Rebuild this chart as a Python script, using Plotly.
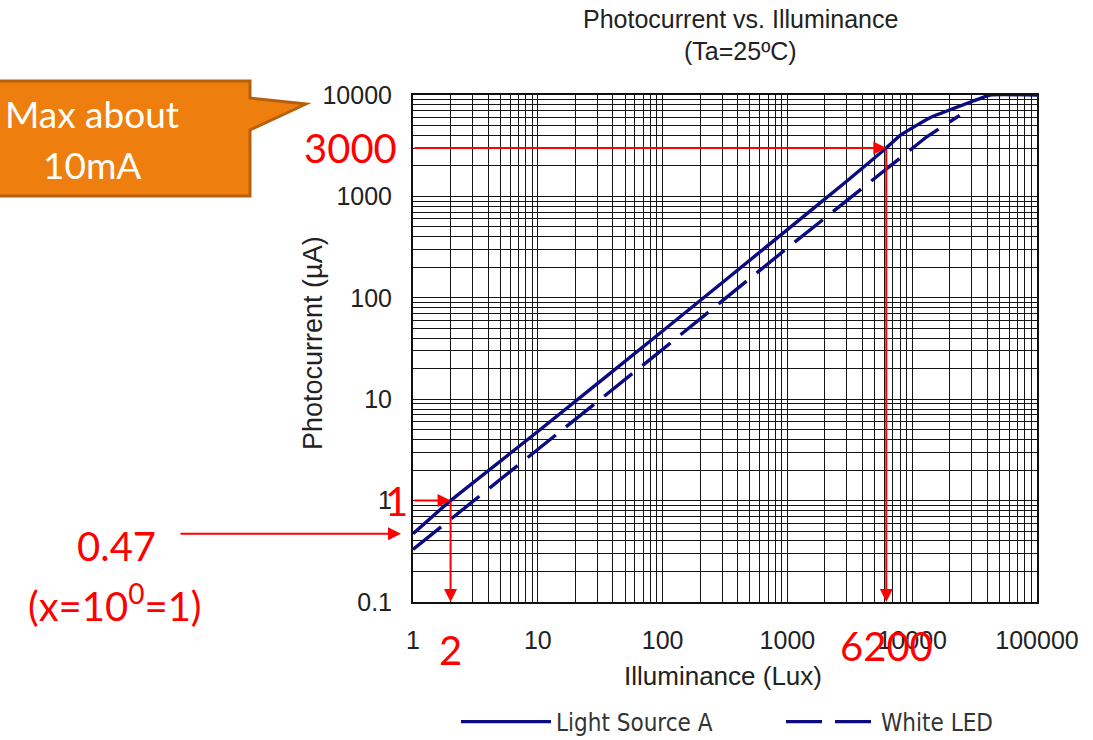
import numpy as np
import plotly.graph_objects as go

# Photocurrent vs. illuminance curves (Ta = 25 C)
lux_a = [1, 2, 10, 100, 1000, 3000, 6200, 8000, 10500, 14000, 21000, 30000, 42000, 100000]
ua_a = [0.47, 1.0, 4.8, 47, 470, 1420, 3000, 4000, 4900, 6000, 7300, 8600, 10000, 10000]

lux_led = [1, 10, 100, 1000, 6200, 13000, 24000]
ua_led = [0.33, 3.2, 31, 310, 1860, 3850, 6300]

# Annotated reading points
low_x, low_y = 2, 1
high_x, high_y = 6200, 3000
start_y = 0.47

x_decades = [1, 10, 100, 1000, 10000, 100000]
y_decades = [0.1, 1, 10, 100, 1000, 10000]
x_labels = ["1", "10", "100", "1000", "10000", "100000"]
y_labels = ["0.1", "1", "10", "100", "1000", "10000"]


def log_grid(decades, labels):
    vals, texts = [], []
    for d, lab in zip(decades[:-1], labels[:-1]):
        for m in range(1, 10):
            vals.append(d * m)
            texts.append(lab if m == 1 else "")
    vals.append(decades[-1])
    texts.append(labels[-1])
    return vals, texts


xv, xt = log_grid(x_decades, x_labels)
yv, yt = log_grid(y_decades, y_labels)

navy = "#0b0b82"
red = "#ff0000"
W, H = 1093, 740
L, R, T, B = 413, 1037, 95, 602


def px(x):
    return (x - L) / (R - L)


def py(y):
    return (B - y) / (B - T)


fig = go.Figure()
fig.add_trace(go.Scatter(x=lux_a, y=ua_a, mode="lines", name="Light Source A",
                         line=dict(color=navy, width=3.4, shape="spline", smoothing=0.4),
                         legend="legend"))
fig.add_trace(go.Scatter(x=lux_led, y=ua_led, mode="lines", name="White LED",
                         line=dict(color=navy, width=3.4, dash="36px,13px"), legend="legend2"))

sans = "Liberation Sans, Arial"
ink = "#222"
axis_font = dict(family=sans, size=25, color=ink)
grid = dict(showgrid=True, gridcolor="#151515", gridwidth=1.2,
            showline=True, linecolor="#111", linewidth=2, mirror=True,
            ticks="", tickfont=axis_font, zeroline=False)
fig.update_xaxes(type="log", range=[0, 5], tickvals=xv, ticktext=xt,
                 ticklabelstandoff=15, **grid)
fig.update_yaxes(type="log", range=[-1, 4], tickvals=yv, ticktext=yt,
                 ticklabelstandoff=14, **grid)

ann = []


def text_at(x, y, text, font, xref="paper", yref="paper", **kw):
    ann.append(dict(xref=xref, yref=yref, x=x, y=y, text=text, font=font,
                    showarrow=False, xanchor=kw.pop("xanchor", "center"),
                    yanchor="middle", **kw))


title_font = dict(family=sans, size=25, color=ink)
text_at(px(740), py(19), "Photocurrent vs. Illuminance", title_font)
text_at(px(740), py(51), "(Ta=25ºC)", title_font)
text_at(px(723), py(676), "Illuminance (Lux)", dict(family=sans, size=26, color=ink))
text_at(px(313), py(343), "Photocurrent (µA)", dict(family=sans, size=27, color=ink), textangle=-90)

lx = np.log10
arrow = dict(showarrow=True, arrowhead=2, arrowsize=1.3, arrowwidth=2, arrowcolor=red, text="",
             xref="x", yref="y", axref="x", ayref="y")
# 3000 µA -> 6200 lux reading
ann.append(dict(arrow, x=lx(high_x), y=lx(high_y), ax=0, ay=lx(high_y)))
ann.append(dict(arrow, x=lx(high_x), y=-1, ax=lx(high_x), ay=lx(high_y)))
# 1 µA -> 2 lux reading
ann.append(dict(arrow, x=lx(low_x), y=lx(low_y), ax=0, ay=lx(low_y)))
ann.append(dict(arrow, x=lx(low_x), y=-1, ax=lx(low_x), ay=lx(low_y)))
# 0.47 µA intercept at 1 lux
ann.append(dict(showarrow=True, arrowhead=2, arrowsize=1.3, arrowwidth=2, arrowcolor=red, text="",
                xref="paper", yref="y", axref="pixel", ayref="pixel",
                x=px(401), y=lx(start_y), ax=-222, ay=0))

big = dict(family="Lato, Open Sans, sans-serif", size=40, color=red)
text_at(px(399), lx(high_y), f"{high_y}", big, yref="y", xanchor="right")
text_at(lx(high_x), py(646), f"{high_x}", big, xref="x")
text_at(px(396), lx(low_y), f"{low_y}", big, yref="y")
text_at(lx(low_x), py(650), f"{low_x}", big, xref="x")
text_at(px(116), py(546), f"{start_y}", big)
text_at(px(115), py(603), "(x=10<sup>0</sup>=1)", big)

# Callout text and box with pointer
callout = dict(family="Lato, Open Sans, sans-serif", size=37, color="white")
text_at(px(92), py(114), "Max about", callout)
text_at(px(92), py(164), "10mA", callout)
pts = [(-6, 81), (250, 81), (250, 98), (306, 104), (250, 130), (250, 196), (-6, 196)]
path = "M " + " L ".join(f"{px(x):.4f},{py(y):.4f}" for x, y in pts) + " Z"
shapes = [dict(type="path", xref="paper", yref="paper", path=path,
               fillcolor="#ee7f0e", line=dict(color="#b7600c", width=3), layer="below")]

legend_font = dict(family="DejaVu Sans Condensed, Liberation Sans Narrow", size=24, color="#333")
legend_common = dict(orientation="h", yanchor="middle", xanchor="left", y=py(722),
                     itemwidth=90, font=legend_font, bgcolor="rgba(0,0,0,0)")

fig.update_layout(
    width=W, height=H,
    margin=dict(l=L, r=W - R, t=T, b=H - B, autoexpand=False),
    paper_bgcolor="white", plot_bgcolor="white",
    annotations=ann, shapes=shapes,
    showlegend=True,
    legend=dict(legend_common, x=px(456)),
    legend2=dict(legend_common, x=px(781)),
)

fig.write_html("out.html")
